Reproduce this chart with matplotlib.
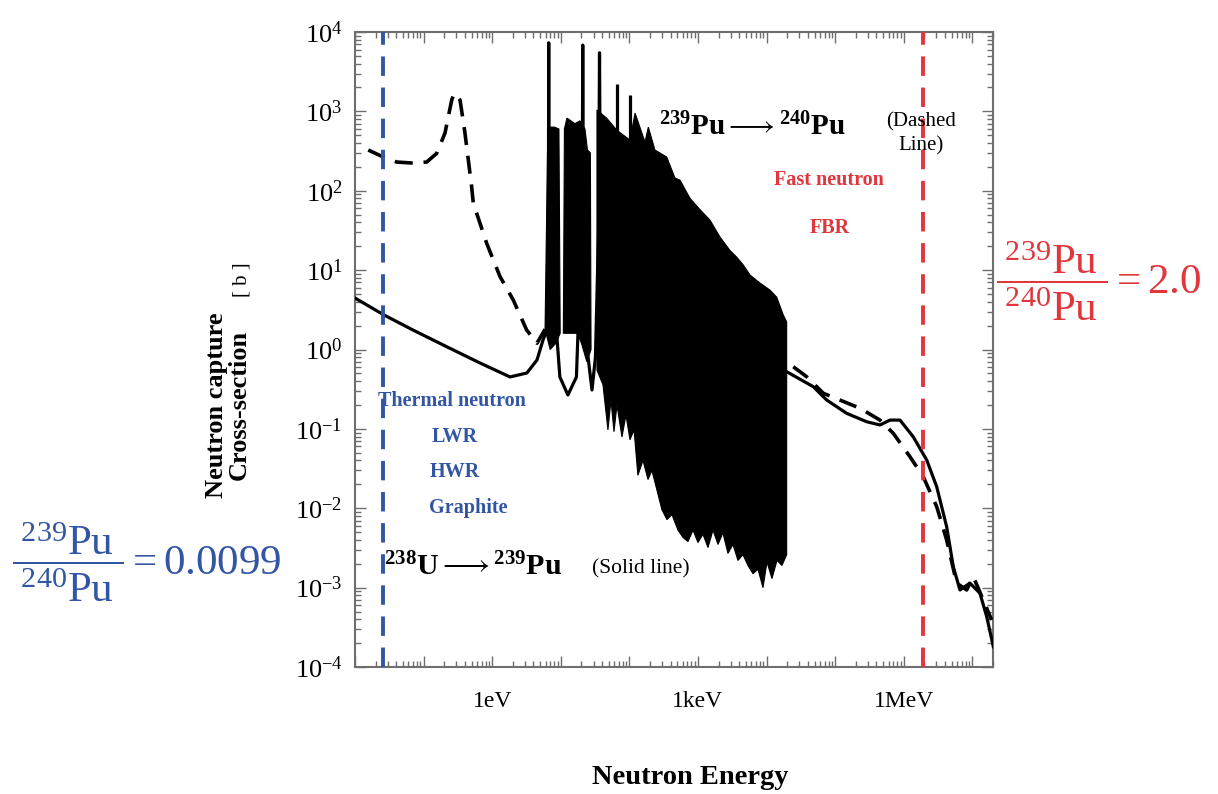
"""Neutron capture cross-section of U-238 and Pu-239 with reactor regions."""

import numpy as np
import matplotlib
matplotlib.use('Agg')
import matplotlib.pyplot as plt

# ---- data (energy in eV, cross-section in barn) ----
# U-238 capture, solid line, thermal region and first resonances
u238_low_energy = [0.01, 0.0265, 0.07, 0.219, 0.664, 1.82, 3.21, 4.50, 5.51,
                   6.30, 6.60, 6.67, 6.74, 7.4, 8.7, 9.7, 12.7, 16.9, 17.8,
                   20.5, 20.9, 21.3, 23.0, 25.0, 28.5, 32.0, 35.5, 36.7, 37.9,
                   40.0]
u238_low_xs = [4.45, 2.72, 1.76, 1.08, 0.676, 0.451, 0.506, 0.738, 1.32,
               1.76, 40, 7310, 40, 4.0, 1.6, 0.45, 0.267, 0.45, 1.6,
               40, 6840, 40, 2.0, 0.8, 0.309, 0.8, 30, 5470, 30,
               1.0]
# isolated U-238 peaks sticking out of the resonance band
u238_peak_energy = [66.0, 102.5]
u238_peak_base = [560, 420]
u238_peak_xs = [2210, 1600]
# U-238 capture above the resolved resonances
u238_high_energy = [19640, 48000, 75200, 147000, 288000, 450000, 629000,
                    881000, 1.37e6, 2.16e6, 3.02e6, 4.22e6, 5.27e6, 6.59e6,
                    9.22e6, 1.29e7, 1.62e7, 2.02e7]
u238_high_xs = [0.525, 0.34, 0.231, 0.157, 0.123, 0.112, 0.129,
                0.129, 0.0798, 0.0406, 0.0187, 0.00586, 0.00184, 0.000935,
                0.00114, 0.00085, 0.000431, 0.000181]

# Pu-239 capture, dashed line
pu239_low_energy = [0.0156, 0.0259, 0.0406, 0.0708, 0.111, 0.155, 0.205,
                    0.257, 0.28, 0.34, 0.401, 0.502, 0.53, 0.832, 1.30, 2.03,
                    3.18, 4.5, 5.9]
pu239_low_xs = [326, 266, 230, 223, 230, 295, 533,
                1390, 1690, 1390, 533, 112, 70, 21.7, 8.3, 4.2,
                1.76, 1.2, 1.8]
pu239_high_energy = [24500, 38400, 67100, 117000, 230000, 450000, 703000,
                     1.23e6, 1.92e6, 3.02e6, 4.22e6, 5.90e6, 8.26e6, 1.03e7,
                     1.44e7, 1.91e7]
pu239_high_xs = [0.607, 0.454, 0.281, 0.231, 0.182, 0.129, 0.088,
                 0.0447, 0.025, 0.0105, 0.00399, 0.00114, 0.000935, 0.00138,
                 0.0007, 0.000392]

# dense resonance region (both curves merge into black bands)
band1_top_energy = [5.9, 6.4, 7.0, 8.0, 9.4, 9.8]
band1_top_xs = [1.8, 300, 634, 634, 600, 1.6]
band1_bot_energy = [5.9, 7.0, 8.5, 9.8]
band1_bot_xs = [1.8, 1.0, 1.2, 1.6]

band2_top_energy = [10.9, 11.3, 12.3, 16.1, 19.0, 22.5, 24.5, 27.0, 27.6]
band2_top_xs = [1.6, 600, 822, 700, 760, 600, 326, 300, 1.0]
band2_bot_energy = [10.9, 17.5, 20.0, 24.0, 27.6]
band2_bot_xs = [1.6, 1.6, 1.2, 0.7, 1.0]

band3_top_energy = [33.7, 46.7, 65.3, 102, 121, 169, 189, 236, 350, 462, 547,
                    764, 1069, 1496, 2094, 2926, 3664, 4581, 5731, 8017,
                    11220, 14040, 17540, 19640]
band3_top_xs = [1040, 822, 581, 435, 952, 410, 634, 326, 266, 145, 136,
                80.5, 57.9, 42.7, 26.1, 17.7, 14.6, 11.6, 8.68, 6.88,
                5.6, 4.57, 2.72, 2.22]
band3_bot_energy = [33.7, 41.2, 48.7, 53.9, 59.7, 65.9, 78.0, 89.2, 102, 117,
                    133, 158, 187, 213, 252, 298, 353, 418, 511, 604, 715,
                    846, 1000, 1183, 1400, 1656, 1959, 2312, 2735, 3236, 3828,
                    4529, 5358, 6339, 7499, 8872, 10140, 11990, 14190, 16760,
                    19640]
band3_bot_xs = [0.55, 0.36, 0.097, 0.23, 0.092, 0.2, 0.079, 0.15, 0.073,
                0.097, 0.026, 0.04, 0.023, 0.030, 0.017, 0.0096, 0.0072,
                0.0083, 0.0053, 0.0043, 0.0038, 0.0053, 0.0037, 0.0047,
                0.0032, 0.0053, 0.0035, 0.0049, 0.0027, 0.0035, 0.0022,
                0.0026, 0.0019, 0.0015, 0.0017, 0.0010, 0.0021, 0.0013,
                0.0022, 0.0019, 0.0026]

# reactor spectrum markers
thermal_energy = 0.026
fast_energy = 1.9e6

# axes ticks
xtick_energy = [1e-2, 1e-1, 1, 1e1, 1e2, 1e3, 1e4, 1e5, 1e6, 1e7]
xtick_labels = ['', '', '1eV', '', '', '1keV', '', '', '1MeV', '']
ytick_exponents = [-4, -3, -2, -1, 0, 1, 2, 3, 4]

BLUE = '#3256a4'
RED = '#e0363c'
GRAY = '#6e6e6e'

plt.rcParams['font.family'] = ['Liberation Serif', 'DejaVu Serif']
plt.rcParams['mathtext.fontset'] = 'custom'
plt.rcParams['mathtext.rm'] = 'Liberation Serif'
plt.rcParams['mathtext.it'] = 'Liberation Serif:italic'
plt.rcParams['mathtext.bf'] = 'Liberation Serif:bold'
plt.rcParams['mathtext.default'] = 'regular'

W, H = 1218, 794


def fxy(x, y):
    """pixel position in the picture -> figure fraction"""
    return x / W, 1 - y / H


fig = plt.figure(figsize=(W / 100, H / 100), dpi=100)
ax = fig.add_axes([355 / W, 1 - 667 / H, 638 / W, 635 / H])
ax.set_xscale('log')
ax.set_yscale('log')
ax.set_xlim(1e-2, 2e7)
ax.set_ylim(1e-4, 1e4)


def band(top_e, top_s, bot_e, bot_s):
    xs = np.concatenate([top_e, bot_e[::-1]])
    ys = np.concatenate([top_s, bot_s[::-1]])
    ax.fill(xs, ys, color='black', lw=0.8, ec='black', zorder=2)


band(band1_top_energy, band1_top_xs, band1_bot_energy, band1_bot_xs)
band(band2_top_energy, band2_top_xs, band2_bot_energy, band2_bot_xs)
band(band3_top_energy, band3_top_xs, band3_bot_energy, band3_bot_xs)

# solid line : U-238
ax.plot(u238_low_energy, u238_low_xs, color='black', lw=2.3, zorder=3)
ax.plot(u238_high_energy, u238_high_xs, color='black', lw=2.3, zorder=3)
ax.vlines(u238_peak_energy, u238_peak_base, u238_peak_xs, color='black',
          lw=2.3, zorder=3)

# dashed line : Pu-239
ax.plot(pu239_low_energy, pu239_low_xs, color='black', lw=2.6,
        dashes=(5, 3), zorder=3)
ax.plot(pu239_high_energy, pu239_high_xs, color='black', lw=2.6,
        dashes=(5, 3), zorder=3)

# thermal / fast markers
ax.axvline(thermal_energy, color=BLUE, lw=2.8, dashes=(5, 3), zorder=4)
ax.axvline(fast_energy, color=RED, lw=2.8, dashes=(5, 3), zorder=4)

# ticks
ax.set_xticks(xtick_energy)
ax.set_xticklabels(xtick_labels, fontsize=17)
ax.set_yticks([10.0 ** e for e in ytick_exponents])
ax.set_yticklabels(['$10^{%d}$' % e for e in ytick_exponents], fontsize=19)
ax.tick_params(which='both', direction='in', top=True, right=True,
               color=GRAY, width=1.0)
ax.tick_params(which='major', length=8)
ax.tick_params(which='minor', length=4)
ax.tick_params(axis='x', pad=17)
ax.tick_params(axis='y', pad=9)
for sp in ax.spines.values():
    sp.set_color(GRAY)
    sp.set_linewidth(1.5)

# axis titles
fig.text(*fxy(228, 405), 'Neutron capture\nCross-section', rotation=90,
         fontsize=19, fontweight='bold', ha='center', va='center',
         multialignment='center', linespacing=1.0)
fig.text(*fxy(242, 280), '[ b ]', rotation=90, fontsize=15,
         ha='center', va='center')
fig.text(*fxy(690, 778), 'Neutron Energy', fontsize=20.5, fontweight='bold',
         ha='center', va='center')

# annotations inside the plot
fig.text(*fxy(659, 127),
         r'$^{\mathbf{239}}\mathbf{Pu}\longrightarrow{}^{\mathbf{240}}\mathbf{Pu}$',
         fontsize=21, ha='left', va='center')
fig.text(*fxy(384, 567),
         r'$^{\mathbf{238}}\mathbf{U}\longrightarrow{}^{\mathbf{239}}\mathbf{Pu}$',
         fontsize=21.5, ha='left', va='center')
fig.text(*fxy(921, 134), '(Dashed\nLine)', fontsize=15, ha='center',
         va='center', multialignment='center', linespacing=1.3)
fig.text(*fxy(641, 569), '(Solid line)', fontsize=15.5, ha='center',
         va='center')
fig.text(*fxy(829, 180), 'Fast neutron', fontsize=14.5, fontweight='bold',
         color=RED, ha='center', va='center')
fig.text(*fxy(830, 228), 'FBR', fontsize=14.5, fontweight='bold',
         color=RED, ha='center', va='center')
fig.text(*fxy(452, 401), 'Thermal neutron', fontsize=14.5,
         fontweight='bold', color=BLUE, ha='center', va='center')
fig.text(*fxy(455, 437), 'LWR', fontsize=14.5, fontweight='bold',
         color=BLUE, ha='center', va='center')
fig.text(*fxy(455, 472), 'HWR', fontsize=14.5, fontweight='bold',
         color=BLUE, ha='center', va='center')
fig.text(*fxy(468, 508), 'Graphite', fontsize=14.5, fontweight='bold',
         color=BLUE, ha='center', va='center')

# isotope ratios
fig.text(*fxy(12, 562),
         r'$\dfrac{\;{}^{239}Pu\;}{\;{}^{240}Pu\;}=0.0099$', fontsize=31,
         color=BLUE, ha='left', va='center')
fig.text(*fxy(996, 281),
         r'$\dfrac{\;{}^{239}Pu\;}{\;{}^{240}Pu\;}=2.0$', fontsize=31,
         color=RED, ha='left', va='center')

fig.savefig('out.png', dpi=100)
